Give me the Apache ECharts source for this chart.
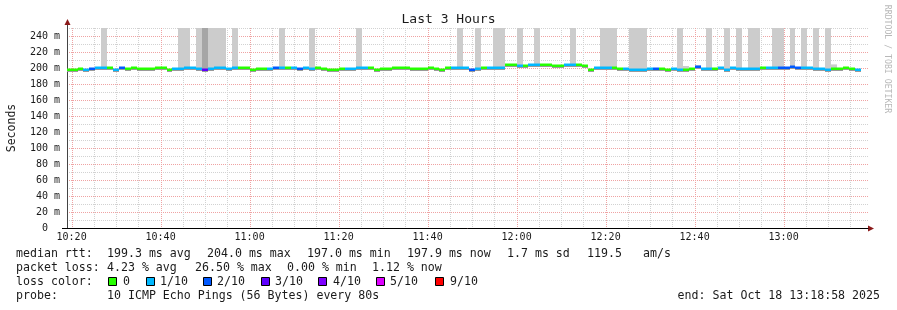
<!DOCTYPE html>
<html><head><meta charset="utf-8">
<script src="https://cdn.jsdelivr.net/npm/echarts@6/dist/echarts.min.js"></script>
<style>html,body{margin:0;padding:0;background:#fff}#c{width:897px;height:310px}</style>
</head><body><div id="c"></div>
<script>
// ---------------- data ----------------
const chartTitle = 'Last 3 Hours';
const axisStart = '10:18:58';
const axisEnd = '13:18:58';
const firstStepStart = '10:18:40';
const stepSeconds = 80;
const xLabelTimes = ['10:20','10:40','11:00','11:20','11:40','12:00','12:20','12:40','13:00'];
const gridTimes = ['10:20','10:25','10:30','10:35','10:40','10:45','10:50','10:55','11:00','11:05','11:10','11:15',
  '11:20','11:25','11:30','11:35','11:40','11:45','11:50','11:55','12:00','12:05','12:10','12:15',
  '12:20','12:25','12:30','12:35','12:40','12:45','12:50','12:55','13:00','13:05','13:10','13:15'];
const yMaxMs = 250;

// median RTT per 80 s step (ms)
const medianRtt = [
  198.0,198.0,198.2,197.8,198.6,200.4,199.5,199.6,198.0,200.6,
  199.3,199.4,199.0,199.3,198.8,200.2,200.1,197.6,199.0,199.1,
  200.6,199.4,198.6,197.0,198.6,199.4,199.6,198.5,199.5,200.6,
  199.5,197.5,199.0,198.4,199.2,200.6,199.4,200.4,199.5,199.0,
  199.4,198.5,199.8,198.8,197.5,197.6,198.4,199.0,199.3,200.6,
  200.6,199.4,197.5,199.2,198.9,200.5,200.4,200.3,199.3,199.0,
  199.1,200.3,199.2,197.3,200.5,199.4,199.4,199.5,197.5,199.3,
  199.5,200.2,200.5,200.6,204.0,204.0,203.0,202.6,204.0,203.5,
  204.0,204.0,203.0,202.9,203.8,204.0,203.2,202.5,198.0,200.0,
  199.5,199.4,200.5,199.0,199.0,198.0,197.5,197.8,199.0,199.3,
  198.5,198.0,199.0,197.5,198.0,198.3,200.8,198.5,199.3,199.0,
  200.3,197.5,199.8,199.0,198.5,198.5,198.8,200.5,199.7,199.7,
  200.0,199.5,200.8,200.5,200.0,200.3,198.5,199.0,197.8,198.8,
  199.0,200.5,198.5,197.9,null,null
];
// lost pings (out of 10) per step
const lossCount = [
  0,0,0,1,2,1,1,0,1,2,
  0,0,0,0,0,0,0,0,1,1,
  1,1,1,3,1,1,1,1,1,0,
  0,0,0,0,1,2,1,0,1,2,
  1,1,0,0,0,0,0,1,1,1,
  1,0,0,0,0,0,0,0,0,0,
  0,0,0,0,0,1,1,1,2,1,
  0,1,1,1,0,0,1,0,1,1,
  0,0,0,0,1,1,0,0,0,1,
  1,1,0,0,1,1,1,1,1,2,
  0,0,1,1,0,0,2,1,1,0,
  1,1,1,1,1,1,1,0,1,1,
  2,2,2,2,1,1,1,1,1,0,
  0,0,0,1,null,null
];
// smoke spikes: step index, highest ping (ms, off-scale ones estimated), pings in the spike
const spikeStep   = [6,19,20,22,23,24,25,26,28,36,41,49,66,69,72,73,76,79,85,90,91,92,95,96,97,103,104,106,108,111,113,115,116,119,120,122,124,126,128,129];
const spikeMaxMs  = [400,400,400,400,400,400,400,400,400,400,400,400,400,400,400,400,400,400,400,400,400,400,400,400,400,400,202.5,203.5,400,400,400,400,400,400,400,400,400,400,400,204.5];
const spikePings  = [1,1,1,1,2,1,1,1,1,1,1,1,1,1,1,1,1,1,1,1,1,1,1,1,1,1,1,1,1,1,1,1,1,1,1,1,1,1,1,1];

const lossLevels = [0,1,2,3,4,5,9];
const lossLabels = ['0','1/10','2/10','3/10','4/10','5/10','9/10'];
const rttStats  = ['median rtt:','199.3 ms avg','204.0 ms max','197.0 ms min','197.9 ms now','1.7 ms sd','119.5','am/s'];
const lossStats = ['packet loss:','4.23 % avg','26.50 % max','0.00 % min','1.12 % now'];
const probeText = ['probe:','10 ICMP Echo Pings (56 Bytes) every 80s'];
const endText = 'end: Sat Oct 18 13:18:58 2025';
const sideText = 'RRDTOOL / TOBI OETIKER';

// ---------------- styling / build ----------------
const FONT = '"DejaVu Sans Mono", monospace';
const lossColor = {0:'#26ff00',1:'#00b8ff',2:'#0059ff',3:'#5e00ff',4:'#7e00ff',5:'#dd00ff',9:'#ff0000'};
function toMin(s){const p=s.split(':').map(Number);return p[0]*60+p[1]+(p[2]||0)/60;}
function fmtMin(v){const r=Math.round(v);const h=Math.floor(r/60),m=r%60;return (h<10?'0':'')+h+':'+(m<10?'0':'')+m;}
const xMin = toMin(axisStart), xMax = toMin(axisEnd);
const step0 = toMin(firstStepStart), stepMin = stepSeconds/60;
const majorSet = new Set(xLabelTimes.map(toMin).map(Math.round));

const medianData = [];
medianRtt.forEach((v,i)=>{ if(v==null) return; medianData.push([step0+i*stepMin, step0+(i+1)*stepMin, v, lossCount[i]]); });
const spikeData = spikeStep.map((s,k)=>[step0+s*stepMin, step0+(s+1)*stepMin, medianRtt[s], spikeMaxMs[k], spikePings[k]]);
const gridData = gridTimes.map(t=>[toMin(t),0]);

const clip = echarts.graphic.clipRectByRect;

const graphics = [];
function txt(x,y,text,opt){
  opt=opt||{};
  graphics.push({type:'text', x:x, y:y, rotation:opt.rotation||0, silent:true,
    style:{text:text, font:(opt.size||11.6)+'px '+FONT, fill:opt.fill||'#1a1a1a',
      textAlign:opt.align||'left', textVerticalAlign:'middle', align:opt.align||'left', verticalAlign:'middle'}});
}
// stats rows
const rttX = [16,107,207,307,407,507,587,643];
rttStats.forEach((s,i)=>txt(rttX[i],254,s));
const lossX = [16,107,195,287,372];
lossStats.forEach((s,i)=>txt(lossX[i],268,s));
txt(16,282,'loss color:');
const sqX = [108,146,203,261,318,376,435];
const lblX = [123,160,217,275,333,390,450];
lossLevels.forEach((l,i)=>{
  graphics.push({type:'rect', silent:true, shape:{x:sqX[i]+0.5,y:277.5,width:8,height:8},
    style:{fill:lossColor[l], stroke:'#000', lineWidth:1}});
  txt(lblX[i],282,lossLabels[i]);
});
txt(16,296,probeText[0]);
txt(107,296,probeText[1]);
txt(880,296,endText,{align:'right'});
txt(887,59,sideText,{size:8.2,fill:'#b8b8b8',align:'center',rotation:-Math.PI/2});
// axis arrows and extensions
graphics.push({type:'line', silent:true, shape:{x1:67.5,y1:23,x2:67.5,y2:28}, style:{stroke:'#444',lineWidth:1}});
graphics.push({type:'line', silent:true, shape:{x1:62,y1:228.5,x2:67,y2:228.5}, style:{stroke:'#000',lineWidth:1}});
graphics.push({type:'line', silent:true, shape:{x1:868,y1:228.5,x2:870,y2:228.5}, style:{stroke:'#000',lineWidth:1}});
graphics.push({type:'polygon', silent:true, shape:{points:[[64.5,25],[70.5,25],[67.5,19]]}, style:{fill:'#8b1a1a'}});
graphics.push({type:'polygon', silent:true, shape:{points:[[868,225.5],[868,231.5],[874,228.5]]}, style:{fill:'#8b1a1a'}});

const chart = echarts.init(document.getElementById('c'), null, {renderer:'canvas'});
chart.setOption({
  animation:false,
  backgroundColor:'#ffffff',
  title:{text:chartTitle, left:'center', top:13, padding:0,
    textStyle:{fontFamily:FONT, fontSize:13, fontWeight:'normal', color:'#1a1a1a'}},
  grid:{left:67, right:29, top:28, bottom:82, containLabel:false, outerBoundsMode:'none'},
  xAxis:{type:'value', min:xMin, max:xMax,
    axisLine:{show:true, onZero:false, lineStyle:{color:'#000', width:1}},
    axisTick:{show:false},
    splitLine:{show:false},
    axisLabel:{customValues:xLabelTimes.map(toMin), formatter:fmtMin, margin:4,
      fontFamily:FONT, fontSize:10, color:'#1a1a1a'}},
  yAxis:{type:'value', min:0, max:yMaxMs, interval:10,
    name:'Seconds', nameLocation:'middle', nameGap:49,
    nameTextStyle:{fontFamily:FONT, fontSize:11.5, color:'#1a1a1a'},
    axisLine:{show:true, lineStyle:{color:'#444', width:1}},
    axisTick:{show:false},
    axisLabel:{margin:7, fontFamily:FONT, fontSize:10, color:'#1a1a1a',
      formatter:v=> (Math.round(v)%20!==0) ? '' : (v===0 ? '0  ' : v+' m')},
    splitLine:{show:true, lineStyle:{color:['#efa3a3','#d2d2d2'], type:[1,1], width:1}}},
  series:[
    {type:'custom', name:'grid', z:1, silent:true, data:gridData, encode:{x:0,y:1},
      renderItem:function(params, api){
        const t = api.value(0);
        const x = Math.round(api.coord([t,0])[0]) + 0.5;
        const cs = params.coordSys;
        const major = majorSet.has(Math.round(t));
        return {type:'line', shape:{x1:x,y1:cs.y,x2:x,y2:cs.y+cs.height},
          style:{stroke: major ? '#efa3a3' : '#d2d2d2', lineWidth:1, lineDash:[1,1]}};
      }},
    {type:'custom', name:'smoke', z:2, silent:true, data:spikeData, encode:{x:[0,1], y:[2,3]},
      renderItem:function(params, api){
        const a = api.coord([api.value(0), api.value(2)]);
        const b = api.coord([api.value(1), api.value(3)]);
        const x0 = Math.round(a[0]), x1 = Math.round(b[0]);
        const shape = clip({x:x0, y:b[1], width:x1-x0, height:a[1]-b[1]}, params.coordSys);
        if(!shape) return null;
        return {type:'rect', shape:shape, style:{fill: api.value(4)>1 ? '#a6a6a6' : '#cccccc'}};
      }},
    {type:'custom', name:'median', z:3, silent:true, data:medianData, encode:{x:[0,1], y:2},
      renderItem:function(params, api){
        const a = api.coord([api.value(0), api.value(2)]);
        const b = api.coord([api.value(1), api.value(2)]);
        const x0 = Math.round(a[0]), x1 = Math.round(b[0]);
        const cy = Math.round(a[1]);
        const cs = params.coordSys;
        const band = clip({x:x0, y:cy-1, width:x1-x0, height:3}, cs);
        const line = clip({x:x0, y:cy-1.5, width:x1-x0, height:2.5}, cs);
        if(!band || !line) return null;
        return {type:'group', children:[
          {type:'rect', shape:band, style:{fill:'#9a9a9a'}},
          {type:'rect', shape:line, style:{fill:lossColor[api.value(3)]}}
        ]};
      }}
  ],
  graphic:graphics
});
</script>
</body></html>
